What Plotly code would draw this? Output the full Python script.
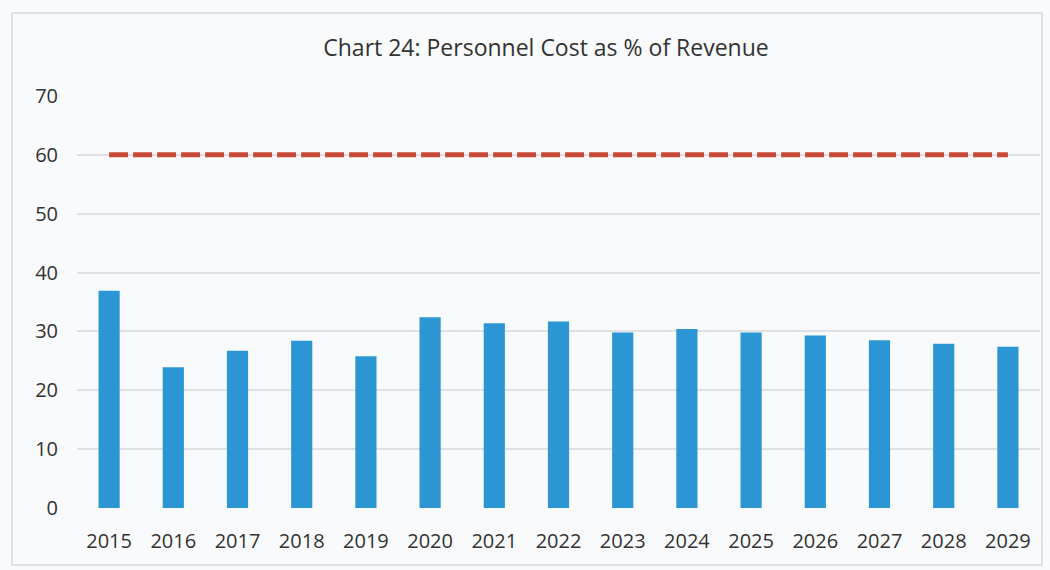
import plotly.graph_objects as go

years = ["2015", "2016", "2017", "2018", "2019", "2020", "2021", "2022",
         "2023", "2024", "2025", "2026", "2027", "2028", "2029"]
personnel_cost_pct = [36.9, 23.9, 26.7, 28.4, 25.8, 32.4, 31.4, 31.7,
                      29.8, 30.4, 29.8, 29.3, 28.5, 27.9, 27.4]
ceiling_pct = [60] * len(years)

title_text = "Chart 24: Personnel Cost as % of Revenue"
y_ticks = [0, 10, 20, 30, 40, 50, 60, 70]

font_family = "Open Sans, Liberation Sans, sans-serif"
text_color = "#333333"

fig = go.Figure()
fig.add_trace(go.Bar(
    x=years, y=personnel_cost_pct,
    marker=dict(color="#2b96d3", line=dict(width=0)),
    name="Personnel cost",
))
fig.add_trace(go.Scatter(
    x=years, y=ceiling_pct, mode="lines",
    line=dict(color="#c84a36", width=5, dash="19px,5px"),
    name="Ceiling",
))

fig.update_layout(
    width=1050, height=570,
    margin=dict(l=77, r=10, t=96, b=62),
    paper_bgcolor="#f9fafb",
    plot_bgcolor="#f9fafb",
    showlegend=False,
    bargap=0.67,
    title=dict(
        text=title_text, x=546 / 1050, xref="container", xanchor="center",
        y=1 - 48 / 570, yref="container", yanchor="middle",
        font=dict(family=font_family, size=23, color=text_color),
    ),
    font=dict(family=font_family, color=text_color),
)
fig.update_xaxes(
    type="category", showgrid=False, zeroline=False, showline=False,
    ticks="", tickfont=dict(size=20, color=text_color),
    ticklabelstandoff=19,
)
fig.update_yaxes(
    range=[0, 70], tickvals=y_ticks, showgrid=True, gridcolor="#e0e1e4",
    gridwidth=1.5, zeroline=False, showline=False, ticks="",
    tickfont=dict(size=20, color=text_color), ticklabelstandoff=18,
)

# faint frame around the whole chart area
fig.add_shape(
    type="rect", xref="paper", yref="paper",
    x0=(12 - 77) / 963, x1=(1042 - 77) / 963,
    y0=-(565 - 508) / 412, y1=(508 - 13) / 412,
    line=dict(color="#d8d9dc", width=1.5), fillcolor="rgba(0,0,0,0)",
    layer="below",
)

fig.write_html("out.html")
